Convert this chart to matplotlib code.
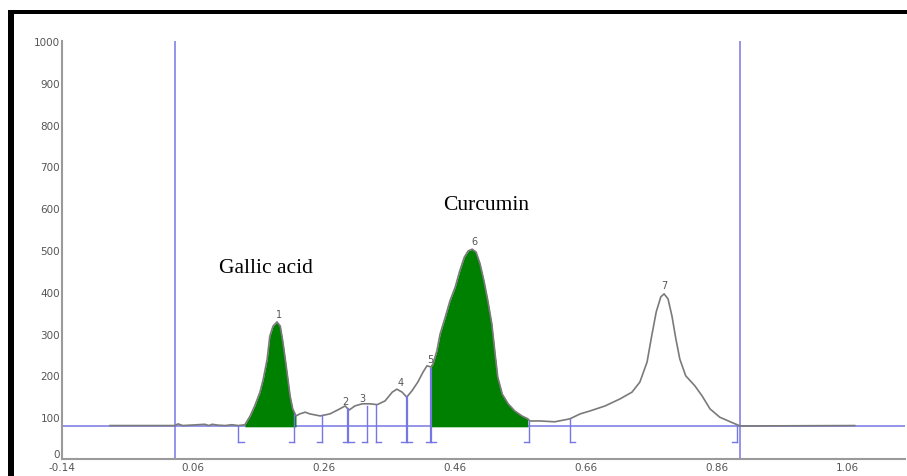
import matplotlib
matplotlib.use('Agg')
import matplotlib.pyplot as plt
from matplotlib.patches import Rectangle
import numpy as np

# densitogram trace (Rf, AU)
rf = [-0.066, 0.033, 0.038, 0.045, 0.079, 0.085, 0.090, 0.099, 0.110, 0.120,
      0.130, 0.140, 0.148, 0.155, 0.163, 0.168, 0.174, 0.178, 0.183, 0.189,
      0.194, 0.198, 0.203, 0.209, 0.213, 0.218, 0.224, 0.232, 0.239, 0.255,
      0.270, 0.285, 0.293, 0.299, 0.308, 0.319, 0.331, 0.342, 0.354, 0.365,
      0.372, 0.380, 0.387, 0.395, 0.404, 0.412, 0.418, 0.424, 0.427, 0.433,
      0.438, 0.446, 0.453, 0.461, 0.468, 0.475, 0.481, 0.487, 0.493, 0.499,
      0.505, 0.511, 0.517, 0.522, 0.526, 0.533, 0.542, 0.552, 0.563, 0.572,
      0.575, 0.591, 0.613, 0.636, 0.652, 0.667, 0.690, 0.713, 0.731, 0.743,
      0.754, 0.761, 0.768, 0.775, 0.780, 0.786, 0.792, 0.798, 0.804, 0.813,
      0.827, 0.838, 0.850, 0.865, 0.881, 0.896, 1.071]
au = [80, 80, 84, 80, 83, 80, 83, 81, 80, 82,
      80, 82, 103, 127, 160, 191, 239, 294, 318, 328,
      318, 280, 223, 151, 120, 103, 108, 112, 108, 103,
      108, 120, 127, 117, 127, 132, 132, 130, 139, 160,
      167, 160, 148, 163, 184, 208, 223, 220, 227, 258,
      299, 340, 378, 411, 450, 483, 498, 502, 495, 467,
      426, 378, 323, 251, 196, 155, 132, 115, 103, 96,
      91, 91, 89, 96, 108, 115, 127, 144, 160, 184,
      232, 294, 352, 388, 395, 383, 342, 287, 239, 199,
      175, 151, 120, 100, 89, 79, 80]

baseline = 80
# integrated (green) regions
fill_ranges = [(0.140, 0.218), (0.424, 0.574)]

# integration markers under the baseline
bracket_rf = [0.130, 0.215, 0.258, 0.298, 0.327, 0.340, 0.387, 0.424, 0.574, 0.636, 0.891]
bracket_top = [80, 108, 105, 120, 127, 130, 148, 215, 91, 96, 80]
bracket_kind = ['[', ']', ']', 'I', ']', '[', 'I', 'I', ']', '[', ']']

peak_ids = ['1', '2', '3', '4', '5', '6', '7']
peak_rf = [0.192, 0.293, 0.319, 0.377, 0.423, 0.490, 0.781]
peak_au = [347, 139, 146, 184, 239, 522, 416]

front_lines = [0.033, 0.896]

xticks = [-0.14, 0.06, 0.26, 0.46, 0.66, 0.86, 1.06]
yticks = [0, 100, 200, 300, 400, 500, 600, 700, 800, 900, 1000]

blue = '#7676e4'
grey_txt = '#555555'

fig = plt.figure(figsize=(9.07, 4.77), dpi=100)
ax = fig.add_axes([61.5 / 907, 17 / 477, (905 - 61.5) / 907, 418 / 477])

x = np.array(rf)
y = np.array(au)

# baseline and start / front lines
ax.axhline(baseline, color=blue, lw=1.1, zorder=1)
for fx in front_lines:
    ax.plot([fx, fx], [0, 1000], color=blue, lw=1.1, zorder=1)

for lo, hi in fill_ranges:
    m = (x >= lo) & (x <= hi)
    ax.fill_between(x[m], baseline - 3, y[m], color='#008000', lw=0, zorder=2)

ax.plot(x, y, color='#7a7a7a', lw=1.2, zorder=3)

foot = 0.008
for bx, top, kind in zip(bracket_rf, bracket_top, bracket_kind):
    lw = 1.6 if kind == 'I' else 1.0
    ax.plot([bx, bx], [41, top], color=blue, lw=lw, zorder=4)
    if kind in '[I':
        ax.plot([bx, bx + foot], [41, 41], color=blue, lw=1.0, zorder=4)
    if kind in ']I':
        ax.plot([bx - foot, bx], [41, 41], color=blue, lw=1.0, zorder=4)

for pid, px, py in zip(peak_ids, peak_rf, peak_au):
    ax.text(px, py, pid, fontsize=7, color=grey_txt, ha='center', va='center')

ax.text(0.172, 459, 'Gallic acid', fontsize=15.5, family='Liberation Serif',
        ha='center', va='center')
ax.text(0.508, 610, 'Curcumin', fontsize=15.5, family='Liberation Serif',
        ha='center', va='center')

ax.set_xlim(-0.14, -0.14 + (905 - 61.5) / 655)
ax.set_ylim(0, 1000)
ax.set_xticks(xticks)
ax.set_xticklabels([f'{t:.2f}' for t in xticks])
ax.set_yticks(yticks)
ax.tick_params(length=0, labelsize=7.5, labelcolor=grey_txt)
ax.tick_params(axis='y', pad=1)
ax.tick_params(axis='x', pad=2)
ax.get_yticklabels()[0].set_va('bottom')
for s in ['top', 'right']:
    ax.spines[s].set_visible(False)
for s in ['left', 'bottom']:
    ax.spines[s].set_color('#9a9a9a')
    ax.spines[s].set_linewidth(1.5)

# black frame around the picture
fig.add_artist(Rectangle((8 / 907, (477 - 15) / 477), 1, 4 / 477,
                         transform=fig.transFigure, color='black', lw=0))
fig.add_artist(Rectangle((8 / 907, 0), 6 / 907, (477 - 11) / 477,
                         transform=fig.transFigure, color='black', lw=0))

fig.savefig('out.png', dpi=100)
